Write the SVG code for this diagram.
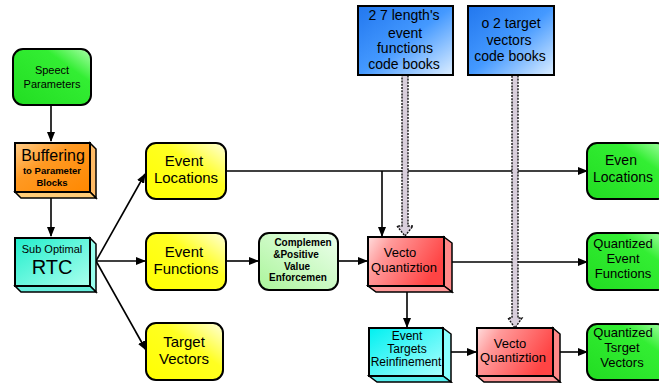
<svg xmlns="http://www.w3.org/2000/svg" width="659" height="383" viewBox="0 0 659 383">
<defs>
<linearGradient id="gGreen" x1="0" y1="1" x2="1" y2="0"><stop offset="0" stop-color="#22dd22"/><stop offset="0.7" stop-color="#33ee33"/><stop offset="1" stop-color="#aaffaa"/></linearGradient>
<linearGradient id="gYellow" x1="0" y1="1" x2="1" y2="0"><stop offset="0" stop-color="#ffff00"/><stop offset="0.6" stop-color="#ffff22"/><stop offset="1" stop-color="#ffffdd"/></linearGradient>
<linearGradient id="gLight" x1="0" y1="1" x2="1" y2="0"><stop offset="0" stop-color="#aaf59a"/><stop offset="1" stop-color="#eeffee"/></linearGradient>
<linearGradient id="gRed" x1="0" y1="0" x2="1" y2="0.4"><stop offset="0" stop-color="#ffdddd"/><stop offset="0.3" stop-color="#ff9999"/><stop offset="1" stop-color="#ff4444"/></linearGradient>
<linearGradient id="gCyan" x1="0" y1="0" x2="1" y2="1"><stop offset="0" stop-color="#00f0f0"/><stop offset="1" stop-color="#aaffff"/></linearGradient>
<linearGradient id="gTeal" x1="0" y1="0" x2="1" y2="1"><stop offset="0" stop-color="#22eecc"/><stop offset="1" stop-color="#aaffee"/></linearGradient>
<linearGradient id="gOrange" x1="0" y1="0" x2="1" y2="1"><stop offset="0" stop-color="#ffcc88"/><stop offset="0.4" stop-color="#ff9922"/><stop offset="1" stop-color="#ff8800"/></linearGradient>
<linearGradient id="gBlue" x1="0" y1="0" x2="1" y2="1"><stop offset="0" stop-color="#2277ee"/><stop offset="0.5" stop-color="#4499ff"/><stop offset="1" stop-color="#ddeeff"/></linearGradient>
<marker id="arr" markerWidth="10" markerHeight="8" refX="9" refY="4" orient="auto" markerUnits="userSpaceOnUse"><path d="M0,0 L10,4 L0,8 Z" fill="#000"/></marker>
</defs>
<style>
text{font-family:"Liberation Sans",Arial,sans-serif;text-anchor:middle;fill:#000}
.box{stroke:#000;stroke-width:2}
.side{stroke:#000;stroke-width:1.5}
.ln{stroke:#000;stroke-width:1.6;fill:none}
.dot{fill:#d9cfdc;stroke:#111;stroke-width:1.4;stroke-dasharray:2,1.2}
</style>

<g id="connectors">
<path class="ln" d="M51,105 L51,141" marker-end="url(#arr)"/>
<path class="ln" d="M51,198 L51,236" marker-end="url(#arr)"/>
<path class="ln" d="M96,261 L145,174" marker-end="url(#arr)"/>
<path class="ln" d="M96,261 L145,261" marker-end="url(#arr)"/>
<path class="ln" d="M96,261 L146,350" marker-end="url(#arr)"/>
<path class="ln" d="M226,171 L587,171" marker-end="url(#arr)"/>
<path class="ln" d="M382,171 L382,236" marker-end="url(#arr)"/>
<path class="ln" d="M226,261 L258,261" marker-end="url(#arr)"/>
<path class="ln" d="M338,261 L367,261" marker-end="url(#arr)"/>
<path class="ln" d="M452,262 L587,262" marker-end="url(#arr)"/>
<path class="ln" d="M407,292 L407,327" marker-end="url(#arr)"/>
<path class="ln" d="M451,352 L476,352" marker-end="url(#arr)"/>
<path class="ln" d="M560,352 L587,352" marker-end="url(#arr)"/>
<path class="dot" d="M402,75 L408,75 L408,226 L413,226 L405,236 L397,226 L402,226 Z"/>
<path class="dot" d="M512,75 L518,75 L518,318 L522,318 L515,328 L508,318 L512,318 Z"/>
</g>

<g id="speech">
<rect class="box" x="13" y="49" width="78" height="56" rx="10" fill="url(#gGreen)"/>
<text x="52" y="74" font-size="11">Speect</text>
<text x="52" y="88" font-size="11">Parameters</text>
</g>

<g id="buffering">
<path class="side" d="M90,143 L96,149 L96,198 L90,192 Z" fill="#ffbb66"/>
<path class="side" d="M15,192 L90,192 L96,198 L21,198 Z" fill="#ffcc77"/>
<rect class="box" x="15" y="143" width="75" height="49" fill="url(#gOrange)"/>
<text x="53" y="161" font-size="16">Buffering</text>
<text x="52" y="174" font-size="9.5" font-weight="bold">to Parameter</text>
<text x="52" y="186" font-size="9.5" font-weight="bold">Blocks</text>
</g>

<g id="rtc">
<path class="side" d="M90,238 L96,244 L96,292 L90,286 Z" fill="#99ffee"/>
<path class="side" d="M15,286 L90,286 L96,292 L21,292 Z" fill="#66eedd"/>
<rect class="box" x="15" y="238" width="75" height="48" fill="url(#gTeal)"/>
<text x="52" y="253" font-size="11">Sub Optimal</text>
<text x="52" y="274" font-size="20">RTC</text>
</g>

<g id="eventLocations">
<rect class="box" x="146" y="143" width="80" height="56" rx="10" fill="url(#gYellow)"/>
<text x="184" y="166" font-size="15">Event</text>
<text x="186" y="183" font-size="15">Locations</text>
</g>

<g id="eventFunctions">
<rect class="box" x="146" y="233" width="80" height="57" rx="10" fill="url(#gYellow)"/>
<text x="184" y="257" font-size="15">Event</text>
<text x="186" y="274" font-size="15">Functions</text>
</g>

<g id="targetVectors">
<rect class="box" x="146" y="323" width="77" height="57" rx="10" fill="url(#gYellow)"/>
<text x="184" y="347" font-size="15">Target</text>
<text x="184" y="364" font-size="15">Vectors</text>
</g>

<g id="complement">
<rect class="box" x="259" y="233" width="79" height="57" rx="10" fill="url(#gLight)"/>
<text x="303" y="246" font-size="10" font-weight="bold">Complemen</text>
<text x="296" y="258" font-size="10" font-weight="bold">&amp;Positive</text>
<text x="297" y="270" font-size="10" font-weight="bold">Value</text>
<text x="298" y="281" font-size="10" font-weight="bold">Enforcemen</text>
</g>

<g id="vq1">
<path class="side" d="M444,237 L452,243 L452,292 L444,286 Z" fill="#ff8888"/>
<path class="side" d="M368,286 L444,286 L452,292 L376,292 Z" fill="#ff9999"/>
<rect class="box" x="368" y="237" width="76" height="49" fill="url(#gRed)"/>
<text x="400" y="257" font-size="13">Vecto</text>
<text x="404" y="272" font-size="13">Quantiztion</text>
</g>

<g id="eventTargets">
<path class="side" d="M443,328 L451,334 L451,382 L443,376 Z" fill="#88ffff"/>
<path class="side" d="M369,376 L443,376 L451,382 L377,382 Z" fill="#55eeee"/>
<rect class="box" x="369" y="328" width="74" height="48" fill="url(#gCyan)"/>
<text x="407" y="340" font-size="12">Event</text>
<text x="407" y="353" font-size="12">Targets</text>
<text x="406" y="366" font-size="12">Reinfinement</text>
</g>

<g id="vq2">
<path class="side" d="M553,328 L560,334 L560,382 L553,376 Z" fill="#ff8888"/>
<path class="side" d="M477,376 L553,376 L560,382 L484,382 Z" fill="#ff9999"/>
<rect class="box" x="477" y="328" width="76" height="48" fill="url(#gRed)"/>
<text x="510" y="348" font-size="13">Vecto</text>
<text x="513" y="362" font-size="13">Quantiztion</text>
</g>

<g id="outLocations">
<rect class="box" x="587" y="143" width="80" height="56" rx="10" fill="url(#gGreen)"/>
<text x="621" y="165" font-size="14">Even</text>
<text x="623" y="182" font-size="14">Locations</text>
</g>

<g id="outFunctions">
<rect class="box" x="587" y="233" width="80" height="57" rx="10" fill="url(#gGreen)"/>
<text x="623" y="248" font-size="13">Quantized</text>
<text x="623" y="263" font-size="13">Event</text>
<text x="623" y="278" font-size="13">Functions</text>
</g>

<g id="outVectors">
<rect class="box" x="587" y="324" width="80" height="56" rx="10" fill="url(#gGreen)"/>
<text x="623" y="337" font-size="13">Quantized</text>
<text x="622" y="352" font-size="13">Tsrget</text>
<text x="622" y="367" font-size="13">Vectors</text>
</g>

<g id="codebook1">
<rect class="box" x="358" y="6" width="95" height="69" fill="url(#gBlue)"/>
<text x="404" y="20" font-size="14">2 7 length's</text>
<text x="405" y="38" font-size="14">event</text>
<text x="405" y="53" font-size="14">functions</text>
<text x="404" y="69" font-size="14">code books</text>
</g>

<g id="codebook2">
<rect class="box" x="468" y="6" width="86" height="69" fill="url(#gBlue)"/>
<text x="511" y="28" font-size="14">o 2 target</text>
<text x="509" y="45" font-size="14">vectors</text>
<text x="510" y="61" font-size="14">code books</text>
</g>
</svg>
